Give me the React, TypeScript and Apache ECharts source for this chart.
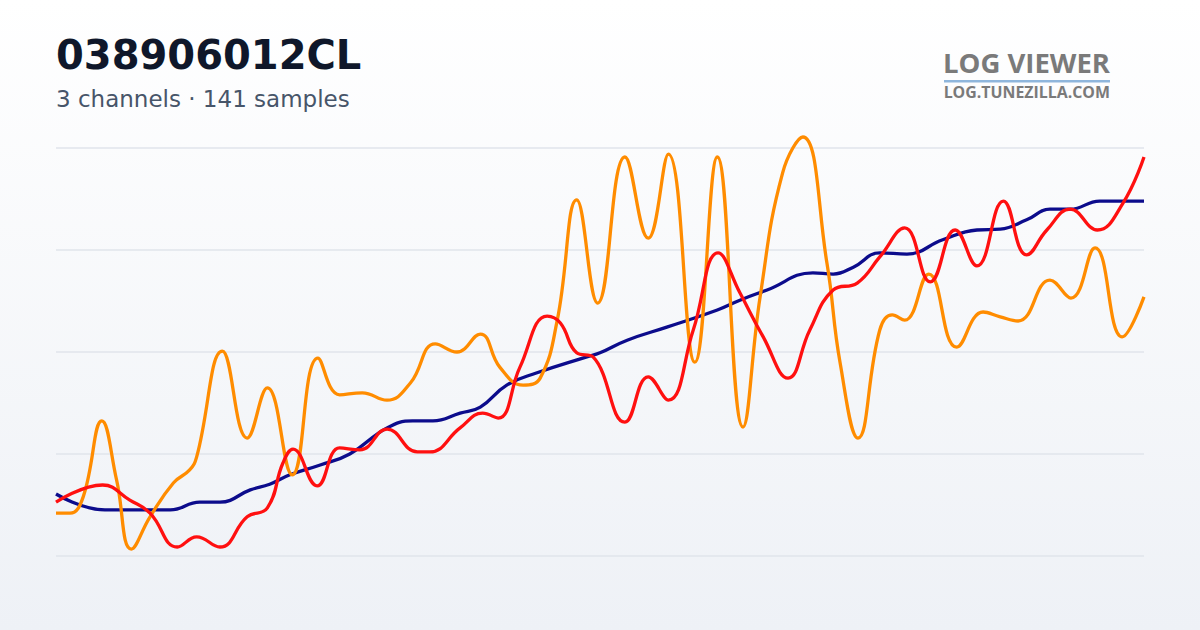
import React, { useEffect, useRef } from "react";
import * as echarts from "echarts";

const TITLE = "038906012CL";
const SUBTITLE = "3 channels · 141 samples";
const LOGO_TOP = "LOG VIEWER";
const LOGO_BOTTOM = "LOG.TUNEZILLA.COM";

// [sample index, normalised value]
const navySeries: [number, number][] = [
  [0, 15.2], [6.3, 11.3], [14.7, 11.3], [18.5, 13.2], [21.1, 13.2], [25.0, 16.2],
  [27.5, 17.6], [30.1, 19.9], [34.0, 22.3], [37.8, 25.0], [42.6, 31.4], [45.9, 33.1],
  [48.5, 33.1], [52.0, 35.0], [54.6, 36.5], [58.0, 41.9], [61.9, 44.9], [68.3, 48.8],
  [70.0, 49.8], [73.5, 52.9], [78.6, 56.1], [85.1, 60.3], [88.0, 62.7], [91.5, 65.2],
  [97.4, 69.4], [100.0, 69.1], [102.6, 70.8], [106.0, 74.3], [109.5, 74.0], [114.1, 77.5],
  [118.5, 79.9], [121.5, 80.1], [124.9, 82.4], [127.9, 85.0], [130.5, 85.0], [134.3, 87.0],
  [140, 87.0],
];

const redSeries: [number, number][] = [
  [0, 13.2], [6.0, 17.4], [9.5, 13.7], [12.1, 10.5], [15.6, 2.2], [18.1, 4.7],
  [21.1, 2.2], [24.6, 9.6], [27.2, 11.8], [29.2, 22.8], [30.5, 26.2], [33.6, 17.2],
  [36.5, 26.5], [39.1, 26.0], [42.6, 31.1], [46.5, 25.5], [48.1, 25.5], [52.0, 31.4],
  [54.9, 35.0], [56.9, 33.8], [59.7, 46.3], [63.2, 58.8], [64.9, 57.1], [67.0, 49.8],
  [69.1, 48.8], [73.2, 32.8], [76.2, 43.9], [78.8, 38.2], [82.0, 55.4], [85.2, 74.3],
  [88.0, 64.5], [91.0, 53.7], [94.2, 43.6], [97.0, 55.4], [100.0, 65.2], [103.1, 66.9],
  [106.0, 73.3], [109.2, 80.4], [112.5, 67.2], [115.7, 79.9], [118.5, 71.1], [121.9, 87.0],
  [124.9, 73.8], [127.5, 79.9], [130.5, 85.0], [134.0, 79.9], [137.3, 86.5], [140, 97.8],
];

const orangeSeries: [number, number][] = [
  [0, 10.5], [1.8, 10.5], [3.5, 14.5], [5.9, 33.1], [7.8, 18.6], [9.7, 1.7],
  [12.1, 9.6], [15.1, 17.9], [17.2, 21.1], [18.1, 24.3], [21.4, 50.2], [24.6, 28.9],
  [27.2, 41.2], [30.4, 19.9], [33.7, 48.5], [36.5, 39.5], [39.4, 40.0], [42.6, 38.2],
  [45.6, 42.4], [48.8, 52.0], [51.6, 50.0], [54.6, 54.4], [57.1, 46.3], [60.1, 41.9],
  [62.3, 43.6], [64.5, 57.8], [67.0, 87.3], [69.7, 62.0], [73.2, 97.8], [76.2, 77.9],
  [78.8, 98.5], [82.2, 47.5], [85.1, 97.8], [88.4, 31.6], [90.6, 63.5], [93.5, 93.9],
  [96.1, 102.7], [99.2, 71.8], [100.9, 47.3], [103.2, 28.9], [106.0, 55.4], [107.6, 59.1],
  [109.2, 57.8], [112.3, 69.1], [115.9, 51.2], [119.3, 59.8], [121.5, 58.6], [123.8, 57.6],
  [127.9, 67.6], [130.6, 63.2], [133.7, 75.5], [137.2, 53.7], [140, 63.5],
];

const SAMPLE_MAX = 140;
const Y_MIN = 0;
const Y_MAX = 100;
const Y_STEP = 25;

export default function App() {
  const ref = useRef<HTMLDivElement>(null);

  useEffect(() => {
    document.body.style.margin = "0";
    if (!ref.current) return;
    const chart = echarts.init(ref.current, null, { renderer: "svg" });
    const lineSeries = (data: [number, number][], color: string) => ({
      type: "line",
      data,
      smooth: 0.45,
      showSymbol: false,
      symbol: "none",
      clip: false,
      lineStyle: { color, width: 3.3 },
    });
    chart.setOption({
      animation: false,
      backgroundColor: new echarts.graphic.LinearGradient(0, 0, 0, 1, [
        { offset: 0, color: "#ffffff" },
        { offset: 1, color: "#eef1f6" },
      ]),
      grid: { left: 56, right: 56, top: 148, bottom: 74 },
      xAxis: {
        type: "value",
        min: 0,
        max: SAMPLE_MAX,
        show: false,
      },
      yAxis: {
        type: "value",
        min: Y_MIN,
        max: Y_MAX,
        interval: Y_STEP,
        axisLine: { show: false },
        axisTick: { show: false },
        axisLabel: { show: false },
        splitLine: { show: true, lineStyle: { color: "#e1e5eb", width: 1.6 } },
      },
      series: [
        lineSeries(navySeries, "#0c0c8c"),
        lineSeries(orangeSeries, "#ff8c00"),
        lineSeries(redSeries, "#ff1010"),
      ],
      graphic: [
        {
          type: "text",
          left: 56,
          top: 35,
          style: {
            text: TITLE,
            font: 'bold 40px "DejaVu Sans"',
            fill: "#0f172a",
          },
        },
        {
          type: "text",
          left: 56,
          top: 87,
          style: {
            text: SUBTITLE,
            font: '23px "DejaVu Sans"',
            fill: "#475569",
          },
        },
        {
          type: "text",
          right: 90,
          top: 48.5,
          style: {
            text: LOGO_TOP,
            font: 'bold 27.5px "Open Sans"',
            fill: "#7a7a7a",
          },
        },
        {
          type: "rect",
          shape: { x: 944, y: 80, width: 166, height: 2.5 },
          style: { fill: "#8fb6dc" },
        },
        {
          type: "text",
          right: 90,
          top: 83.5,
          style: {
            text: LOGO_BOTTOM,
            font: 'bold 15.9px "Open Sans"',
            fill: "#7a7a7a",
          },
        },
      ],
    });
    return () => chart.dispose();
  }, []);

  return <div ref={ref} style={{ width: 1200, height: 630 }} />;
}
